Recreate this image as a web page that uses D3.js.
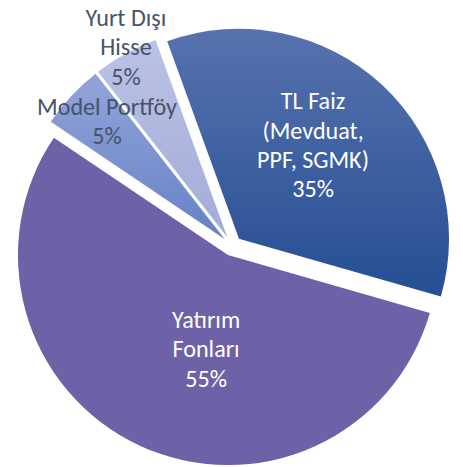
<!DOCTYPE html>
<html>
<head>
<meta charset="utf-8">
<script src="https://cdn.jsdelivr.net/npm/d3@7"></script>
<style>
  html, body { margin: 0; padding: 0; background: #ffffff; }
  svg { display: block; }
</style>
</head>
<body>
<svg id="chart" width="463" height="467"></svg>
<script>
// ---- data ----
const categories = ["TL Faiz (Mevduat, PPF, SGMK)", "Yatırım Fonları", "Model Portföy", "Yurt Dışı Hisse"];
const labelLines = [["TL Faiz", "(Mevduat,", "PPF, SGMK)"], ["Yatırım", "Fonları"], ["Model Portföy"], ["Yurt Dışı", "Hisse"]];
const values = [35, 55, 5, 5];

// ---- styles / layout ----
const gradTop    = ["#5772ae", "#6d61a8", "#93a4da", "#bac3e5"];
const gradBottom = ["#254e94", "#6d61a8", "#6582c6", "#a2acd6"];
const labelColor = ["#ffffff", "#ffffff", "#44546a", "#44546a"];
const labelLayout = [
  { rf: 0.565, da: -4.4 },
  { rf: 0.464, da: -12 },
  { rf: 0.791, da: 1.8 },
  { rf: 1.022, da: 0.8 }
];

const W = 463, H = 467;
const cx = 232.2, cy = 246, R = 210, explode = 10;
const startDeg = -20;
const lineH = 29.3;

const svg = d3.select("#chart");
const defs = svg.append("defs");

const pie = d3.pie().sort(null).value(d => d)
  .startAngle(startDeg * Math.PI / 180)
  .endAngle((startDeg + 360) * Math.PI / 180);
const arcs = pie(values);
const arc = d3.arc().innerRadius(0).outerRadius(R);

const total = d3.sum(values);
const pct = d3.format(".0%");

arcs.forEach((d, i) => {
  const g = defs.append("linearGradient")
    .attr("id", "g" + i)
    .attr("x1", 0).attr("y1", 0).attr("x2", 0).attr("y2", 1);
  g.append("stop").attr("offset", "0%").attr("stop-color", gradTop[i]);
  g.append("stop").attr("offset", "100%").attr("stop-color", gradBottom[i]);
});

const root = svg.append("g").attr("transform", `translate(${cx},${cy})`);
const offset = d => {
  const m = (d.startAngle + d.endAngle) / 2;
  return [explode * Math.sin(m), -explode * Math.cos(m)];
};

root.append("g").selectAll("path").data(arcs).join("path")
  .attr("transform", d => `translate(${offset(d)})`)
  .attr("d", arc)
  .attr("fill", (d, i) => `url(#g${i})`);

// font sizing to match Calibri-like metrics
const fontFamily = "Carlito, Calibri, Lato, 'Noto Sans', sans-serif";
const probe = svg.append("text").attr("font-family", fontFamily).attr("font-size", 24).text("Model Portföy");
const w = probe.node().getComputedTextLength();
probe.remove();
const fontSize = Math.max(18, Math.min(26, 24 * 140 / (w || 140)));

const labelLayer = root.append("g");
arcs.forEach((d, i) => {
  const [ox, oy] = offset(d);
  const m = (d.startAngle + d.endAngle) / 2 + labelLayout[i].da * Math.PI / 180;
  const r = R * labelLayout[i].rf;
  const lx = ox + r * Math.sin(m), ly = oy - r * Math.cos(m);
  const lines = labelLines[i].concat([pct(values[i] / total)]);
  const t = labelLayer.append("text")
    .attr("font-family", fontFamily)
    .attr("font-size", fontSize)
    .attr("fill", labelColor[i])
    .attr("text-anchor", "middle");
  lines.forEach((s, k) => {
    t.append("tspan")
      .attr("x", lx)
      .attr("y", ly + (k - (lines.length - 1) / 2) * lineH + fontSize * 0.3)
      .text(s);
  });
});
</script>
</body>
</html>
